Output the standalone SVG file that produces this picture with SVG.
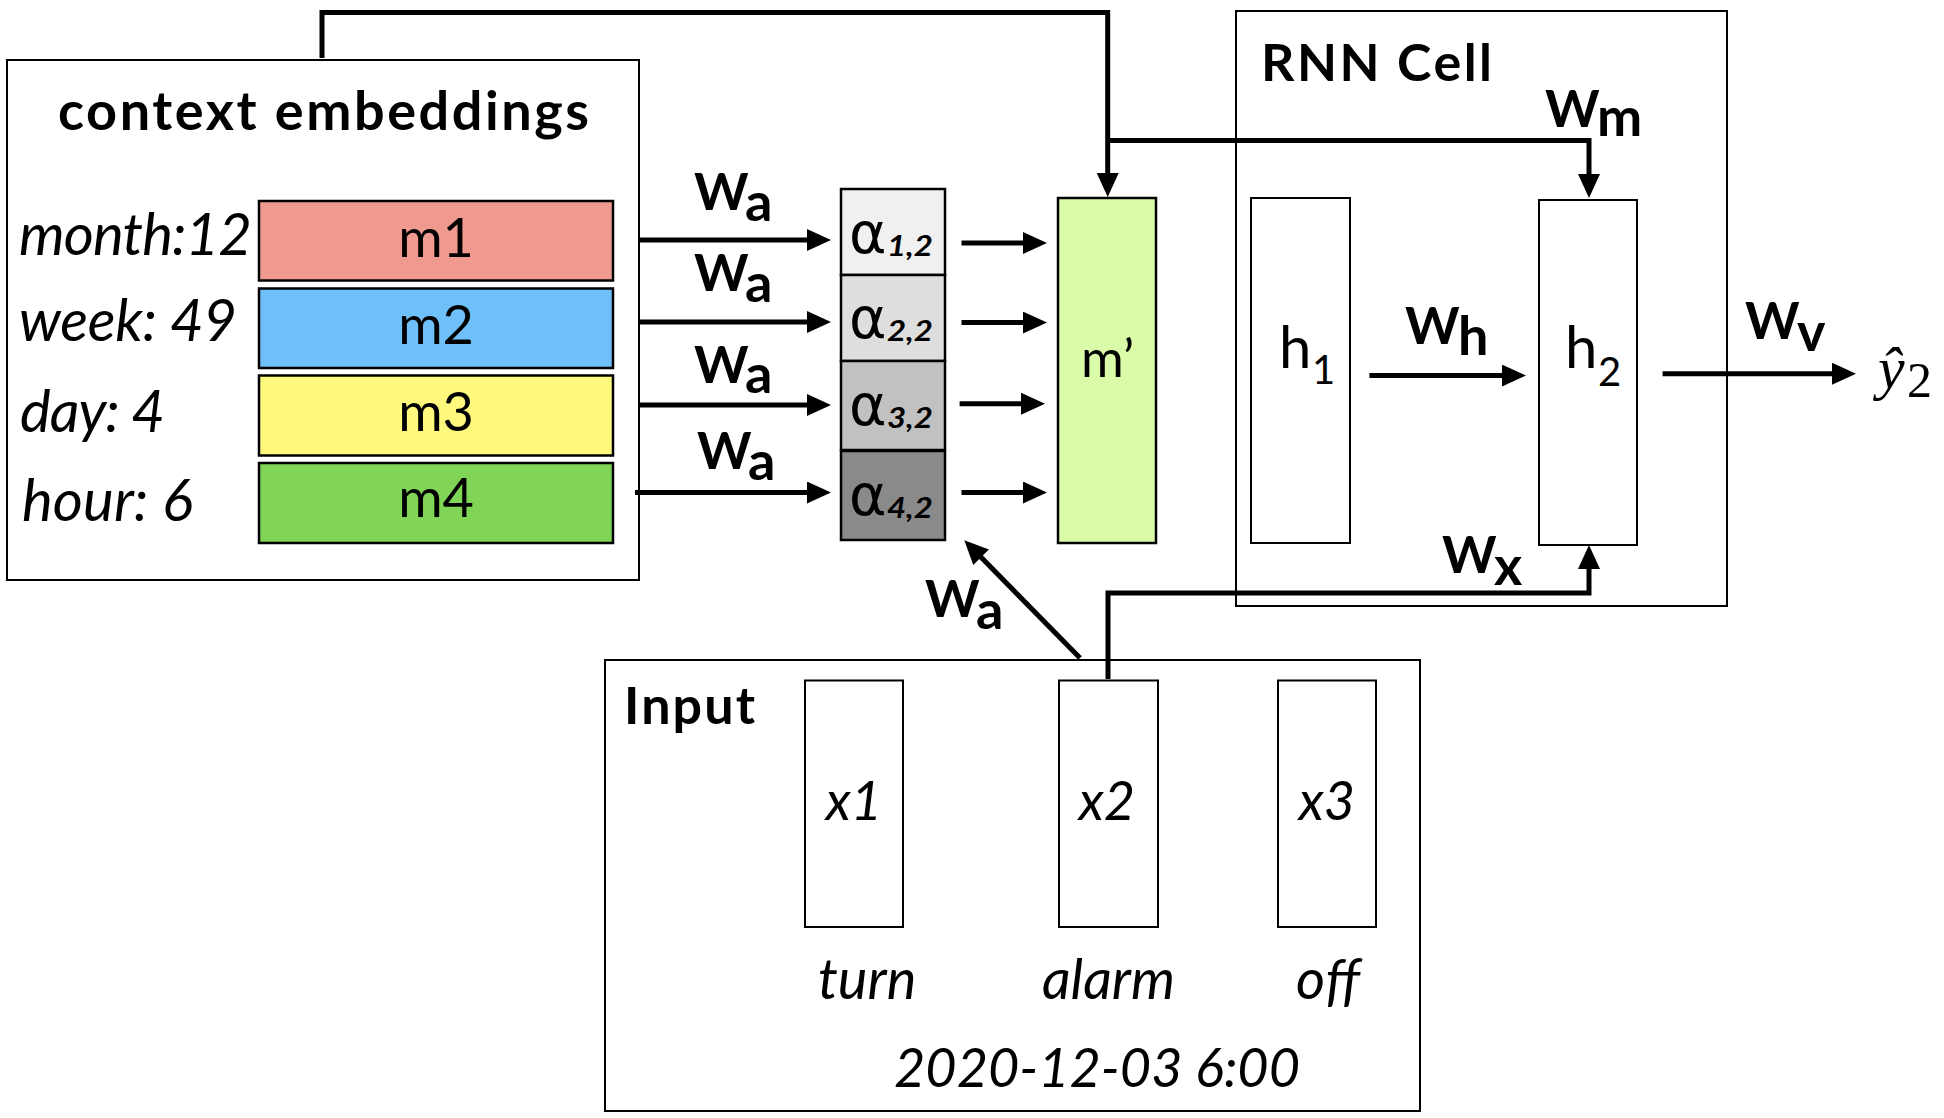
<svg xmlns="http://www.w3.org/2000/svg" width="1944" height="1118" viewBox="0 0 1944 1118">
<defs>
<style>
.box{fill:none;stroke:#000;stroke-width:2}
.cell{stroke:#000;stroke-width:2.5}
.conn{fill:none;stroke:#000;stroke-width:5}
.t{font-family:Lato,"Open Sans","DejaVu Sans",sans-serif;fill:#000}
.b{font-weight:700}
.i{font-style:italic}
.lbl{font-size:58px;font-style:italic}
.mt{font-size:54px;text-anchor:middle}
.W{font-size:52px;font-weight:700}
.sub{font-size:54px;font-weight:700}
.al{font-family:"DejaVu Sans","Noto Sans",sans-serif;font-size:57px}
.as{font-family:Lato,sans-serif;font-size:28px;font-style:italic;font-weight:700}
.hh{font-size:58px}
.hs{font-size:40px}
</style>
<marker id="ah" markerUnits="userSpaceOnUse" markerWidth="26" markerHeight="24" refX="13" refY="11" orient="auto">
<path d="M0,0 L24,11 L0,22 Z" fill="#000"/>
</marker>
</defs>
<rect width="1944" height="1118" fill="#fff"/>

<g id="context">
<rect class="box" x="7" y="60" width="632" height="520" fill="#fff"/>
<text class="t b" x="58" y="130" font-size="54" textLength="531">context embeddings</text>
<text class="t lbl" x="19" y="254.5" textLength="233">month:12</text>
<text class="t lbl" x="19" y="341" textLength="218">week: 49</text>
<text class="t lbl" x="20" y="432" textLength="145">day: 4</text>
<text class="t lbl" x="22" y="520.5" textLength="171">hour: 6</text>
</g>
<g id="m1"><rect class="cell" x="259" y="201" width="354" height="79.5" fill="#F09A8F"/><text class="t mt" x="436" y="257">m1</text></g>
<g id="m2"><rect class="cell" x="259" y="288.5" width="354" height="79.5" fill="#6FBFF8"/><text class="t mt" x="436" y="344">m2</text></g>
<g id="m3"><rect class="cell" x="259" y="375.5" width="354" height="80" fill="#FFFA7E"/><text class="t mt" x="436" y="430.5">m3</text></g>
<g id="m4"><rect class="cell" x="259" y="463" width="354" height="80" fill="#80D456"/><text class="t mt" x="436" y="517">m4</text></g>

<g id="alpha">
<rect class="cell" x="841" y="189" width="104" height="86" fill="#F0F0F0"/>
<rect class="cell" x="841" y="275" width="104" height="86" fill="#DEDEDE"/>
<rect class="cell" x="841" y="361" width="104" height="89" fill="#C1C1C1"/>
<rect class="cell" x="841" y="451" width="104" height="89" fill="#8A8A8A"/>
<text class="al" x="849" y="253">α</text><text class="as" x="887" y="256" textLength="46" lengthAdjust="spacingAndGlyphs">1,2</text>
<text class="al" x="849" y="338">α</text><text class="as" x="887" y="341" textLength="46" lengthAdjust="spacingAndGlyphs">2,2</text>
<text class="al" x="849" y="425">α</text><text class="as" x="887" y="428" textLength="46" lengthAdjust="spacingAndGlyphs">3,2</text>
<text class="al" x="849" y="515">α</text><text class="as" x="887" y="518" textLength="46" lengthAdjust="spacingAndGlyphs">4,2</text>
</g>

<g id="mprime"><rect class="cell" x="1058" y="198" width="98" height="345" fill="#DAFCA8"/><text class="t" x="1081" y="377" font-size="52">m’</text></g>

<g id="rnn">
<rect class="box" x="1236" y="11" width="491" height="595" fill="none"/>
<text class="t b" x="1261" y="81" font-size="52" textLength="231">RNN Cell</text>
</g>
<g id="h1"><rect class="box" x="1251" y="198" width="99" height="345"/><text class="t hh" x="1279" y="368">h</text><text class="t hs" x="1312" y="384">1</text></g>
<g id="h2"><rect class="box" x="1539" y="200" width="98" height="345"/><text class="t hh" x="1565" y="368">h</text><text class="t hs" x="1598" y="386">2</text></g>

<g id="input">
<rect class="box" x="605" y="660" width="815" height="451"/>
<text class="t b" x="624" y="724.3" font-size="52" textLength="131">Input</text>
<text class="t i" x="1097" y="1087.4" font-size="54" text-anchor="middle">2020-12-03 6:00</text>
</g>
<g id="x1"><rect class="box" x="805" y="680.5" width="98" height="246.5"/><text class="t i" x="854" y="820" font-size="54" text-anchor="middle">x1</text><text class="t i" x="818" y="999" font-size="56">turn</text></g>
<g id="x2"><rect class="box" x="1059" y="680.5" width="99" height="246.5"/><text class="t i" x="1107" y="820" font-size="54" text-anchor="middle">x2</text><text class="t i" x="1042" y="999" font-size="56" textLength="133">alarm</text></g>
<g id="x3"><rect class="box" x="1278" y="680.5" width="98" height="246.5"/><text class="t i" x="1327" y="820" font-size="54" text-anchor="middle">x3</text><text class="t i" x="1296" y="999" font-size="56" textLength="64">off</text></g>

<g id="yhat"><text font-family="'Liberation Serif',serif" x="1878" y="388"><tspan font-size="60" font-style="italic">ŷ</tspan><tspan font-size="50" x="1907" y="397">2</tspan></text></g>

<g id="connectors">
<path class="conn" d="M322,58 V12.6 H1107.7 V186" marker-end="url(#ah)"/>
<path class="conn" d="M1107.7,140.5 H1589 V187" marker-end="url(#ah)"/>
<path class="conn" d="M1108,679 V593 H1589 V556" marker-end="url(#ah)"/>
<path class="conn" d="M639,240 H820" marker-end="url(#ah)"/>
<path class="conn" d="M639,322 H820" marker-end="url(#ah)"/>
<path class="conn" d="M639,405 H820" marker-end="url(#ah)"/>
<path class="conn" d="M635,492.5 H820" marker-end="url(#ah)"/>
<path class="conn" d="M961.5,243 H1036" marker-end="url(#ah)"/>
<path class="conn" d="M961.5,322.6 H1036" marker-end="url(#ah)"/>
<path class="conn" d="M959.6,403.7 H1034" marker-end="url(#ah)"/>
<path class="conn" d="M961.5,492.5 H1036" marker-end="url(#ah)"/>
<path class="conn" d="M1369.4,375.6 H1515" marker-end="url(#ah)"/>
<path class="conn" d="M1662.6,373.7 H1845" marker-end="url(#ah)"/>
<path class="conn" d="M1080,658 L972,548" stroke-width="4" marker-end="url(#ah)"/>
<text class="t"><tspan class="W" x="694" y="210">W</tspan><tspan class="sub" x="745" y="221">a</tspan></text>
<text class="t"><tspan class="W" x="694" y="291">W</tspan><tspan class="sub" x="745" y="302">a</tspan></text>
<text class="t"><tspan class="W" x="694" y="383">W</tspan><tspan class="sub" x="745" y="393">a</tspan></text>
<text class="t"><tspan class="W" x="697" y="469">W</tspan><tspan class="sub" x="748" y="480">a</tspan></text>
<text class="t"><tspan class="W" x="925" y="617">W</tspan><tspan class="sub" x="976" y="628.5">a</tspan></text>
<text class="t"><tspan class="W" x="1545" y="127">W</tspan><tspan class="sub" x="1597" y="136.4">m</tspan></text>
<text class="t"><tspan class="W" x="1405" y="344">W</tspan><tspan class="sub" x="1458" y="354.7">h</tspan></text>
<text class="t"><tspan class="W" x="1745" y="339">W</tspan><tspan class="sub" x="1797" y="351">v</tspan></text>
<text class="t"><tspan class="W" x="1442" y="573">W</tspan><tspan class="sub" x="1494" y="585">x</tspan></text>
</g>
</svg>
